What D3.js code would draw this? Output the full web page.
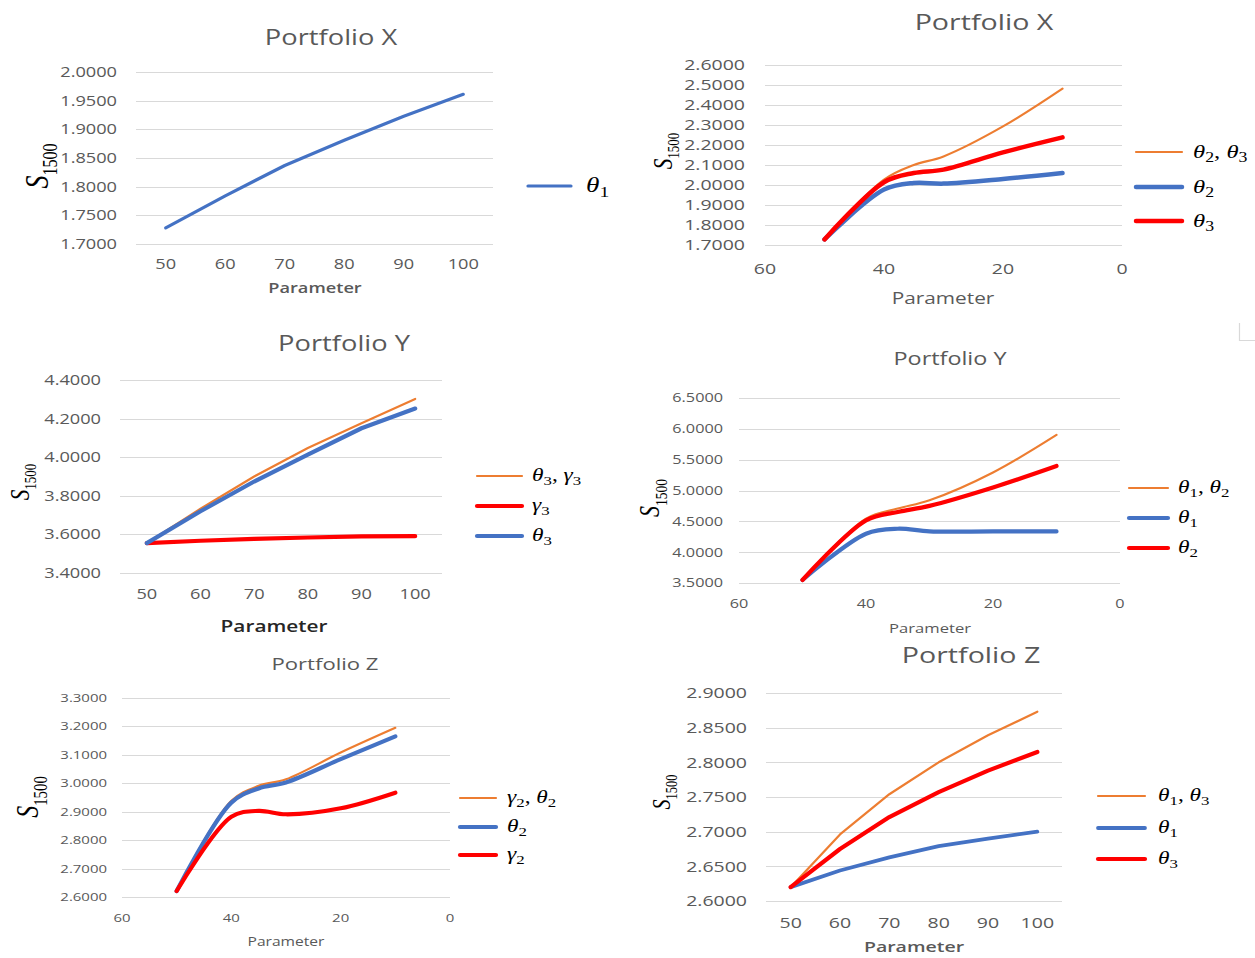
<!DOCTYPE html>
<html><head><meta charset="utf-8">
<script src="https://cdn.jsdelivr.net/npm/d3@7"></script>
<style>body{margin:0;background:#fff;} svg{display:block;}</style>
</head><body><svg id="c" width="1255" height="958"></svg>
<script>
// ---------------- DATA ----------------
const catParams = [50, 60, 70, 80, 90, 100];
const revParams = [50, 40, 35, 30, 20, 10];
const revTicks = [60, 40, 20, 0];

// Panel 1 – Portfolio X (categories)
const p1Theta1 = [1.728, 1.784, 1.837, 1.881, 1.923, 1.961];
const p1YTicks = [1.70, 1.75, 1.80, 1.85, 1.90, 1.95, 2.00];

// Panel 2 – Portfolio X (reversed numeric)
const p2Theta23 = [1.728, 2.027, 2.100, 2.143, 2.293, 2.482];
const p2Theta2  = [1.728, 1.977, 2.010, 2.007, 2.030, 2.060];
const p2Theta3  = [1.728, 2.014, 2.060, 2.077, 2.163, 2.238];
const p2YTicks = [1.7, 1.8, 1.9, 2.0, 2.1, 2.2, 2.3, 2.4, 2.5, 2.6];

// Panel 3 – Portfolio Y (categories)
const p3Theta3Gamma3 = [3.555, 3.733, 3.900, 4.048, 4.176, 4.302];
const p3Gamma3       = [3.555, 3.567, 3.577, 3.584, 3.590, 3.591];
const p3Theta3       = [3.555, 3.720, 3.874, 4.013, 4.150, 4.252];
const p3YTicks = [3.4, 3.6, 3.8, 4.0, 4.2, 4.4];

// Panel 4 – Portfolio Y (reversed numeric)
const p4Theta12 = [3.549, 4.543, 4.707, 4.842, 5.293, 5.902];
const p4Theta1  = [3.549, 4.299, 4.380, 4.337, 4.337, 4.337];
const p4Theta2  = [3.549, 4.516, 4.652, 4.750, 5.049, 5.397];
const p4YTicks = [3.5, 4.0, 4.5, 5.0, 5.5, 6.0, 6.5];

// Panel 5 – Portfolio Z (reversed numeric)
const p5Gamma2Theta2 = [2.621, 2.938, 2.991, 3.014, 3.108, 3.195];
const p5Theta2       = [2.621, 2.932, 2.982, 3.003, 3.085, 3.165];
const p5Gamma2       = [2.621, 2.882, 2.903, 2.891, 2.912, 2.967];
const p5YTicks = [2.6, 2.7, 2.8, 2.9, 3.0, 3.1, 3.2, 3.3];

// Panel 6 – Portfolio Z (categories)
const p6Theta13 = [2.620, 2.696, 2.754, 2.800, 2.839, 2.873];
const p6Theta1  = [2.620, 2.644, 2.663, 2.679, 2.690, 2.700];
const p6Theta3  = [2.620, 2.675, 2.721, 2.757, 2.788, 2.815];
const p6YTicks = [2.60, 2.65, 2.70, 2.75, 2.80, 2.85, 2.90];

// ---------------- STYLE ----------------
const ORANGE = "#ED7D31", BLUE = "#4472C4", RED = "#FF0000";
const GREY = "#595959", GRID = "#d9d9d9";
const SANS = "'Open Sans', sans-serif";
const SERIF = "'Liberation Serif', 'DejaVu Serif', serif";
const SX = 1.3;
const fmt4 = d3.format(".4f");

const svg = d3.select("#c");

function stext(parent, x, y, str, o) {
  const g = parent.append("g")
    .attr("transform", `translate(${x},${y}) scale(${o.sx || SX},1)` + (o.rotate ? ` rotate(${o.rotate})` : ""));
  return g.append("text")
    .attr("text-anchor", o.anchor || "middle")
    .attr("dy", "0.35em")
    .attr("font-family", o.family || SANS)
    .attr("font-size", o.size)
    .attr("font-weight", o.weight || 400)
    .attr("fill", o.fill || GREY)
    .text(str);
}

function mathLabel(parent, x, y, parts, size, opts) {
  opts = opts || {};
  const g = parent.append("g")
    .attr("transform", `translate(${x},${y}) scale(${SX},1)` + (opts.rotate ? ` rotate(${opts.rotate})` : ""));
  const t = g.append("text")
    .attr("text-anchor", opts.anchor || "start")
    .attr("dy", "0.35em")
    .attr("font-family", SERIF)
    .attr("font-size", size)
    .attr("fill", "#000");
  parts.forEach((p, i) => {
    if (i > 0) t.append("tspan").attr("font-style", "normal").attr("dy", `-${0.22}em`).text(", ");
    t.append("tspan").attr("font-style", "italic").attr("font-size", size)
      .attr("dy", i > 0 ? "0em" : null).text(p[0]);
    t.append("tspan").attr("font-style", "normal").attr("font-size", size * 0.72)
      .attr("dy", `${0.22 * size / (size * 0.72)}em`).text(p[1]);
  });
  return t;
}

function panel(c) {
  const g = svg.append("g");
  const y = d3.scaleLinear().domain(d3.extent(c.yTicks)).range([c.yBot, c.yTop]);
  let x, xTickVals;
  if (c.type === "cat") {
    x = d3.scalePoint().domain(c.cats).range([c.gx0, c.gx1]).padding(0.5);
    xTickVals = c.cats;
  } else {
    x = d3.scaleLinear().domain([c.xTicks[0], c.xTicks[c.xTicks.length - 1]]).range([c.gx0, c.gx1]);
    xTickVals = c.xTicks;
  }
  // gridlines
  g.selectAll(".grid").data(c.yTicks).join("line")
    .attr("x1", c.gx0).attr("x2", c.gx1)
    .attr("y1", d => Math.round(y(d)) + 0.5).attr("y2", d => Math.round(y(d)) + 0.5)
    .attr("stroke", GRID).attr("stroke-width", 1.2);
  // y tick labels
  c.yTicks.forEach(v => stext(g, c.yLabelRight, y(v), fmt4(v), { size: c.tickSize, anchor: "end" }));
  // x tick labels
  xTickVals.forEach(v => stext(g, x(v), c.xTickY, String(v), { size: c.tickSize }));
  // title
  stext(g, c.titleX, c.titleY, c.title, { size: c.titleSize });
  // x title
  stext(g, c.xTitleX, c.xTitleY, "Parameter", { size: c.xTitleSize, fill: c.xTitleFill || GREY, weight: c.xTitleWeight || 400 });
  // y title S_1500
  const yg = g.append("g").attr("transform", `translate(${c.yTitleX},${c.yTitleY}) scale(${SX},1) rotate(-90)`);
  const yt = yg.append("text").attr("text-anchor", "middle").attr("dy", "0.35em")
    .attr("font-family", SERIF).attr("font-size", c.yTitleSize).attr("fill", "#000");
  yt.append("tspan").attr("font-style", "italic").text("S");
  yt.append("tspan").attr("font-size", c.yTitleSize * 0.62).attr("dy", "0.45em").text("1500");
  // series
  const xs = c.type === "cat" ? c.cats : c.params;
  c.series.forEach((s, i) => {
    const line = d3.line().x((d, j) => x(xs[j])).y(d => y(d));
    if (c.curve) line.curve(c.curve);
    g.append("path").datum(s.values)
      .attr("d", line).attr("fill", "none")
      .attr("stroke", s.color).attr("stroke-width", s.width)
      .attr("stroke-linecap", "round").attr("stroke-linejoin", "round");
    // legend
    const ly = c.legend.ys[i];
    g.append("line").attr("x1", c.legend.x0).attr("x2", c.legend.x1)
      .attr("y1", ly).attr("y2", ly)
      .attr("stroke", s.color).attr("stroke-width", s.width)
      .attr("stroke-linecap", "round");
    mathLabel(g, c.legend.labelX, ly - 1, s.label, c.legend.size);
  });
}

// Panel 1
panel({
  type: "cat", cats: catParams, gx0: 136, gx1: 493, yTop: 72, yBot: 244, yTicks: p1YTicks,
  yLabelRight: 117, tickSize: 14, xTickY: 264,
  title: "Portfolio X", titleX: 331, titleY: 38, titleSize: 21,
  xTitleX: 315, xTitleY: 288, xTitleSize: 14, xTitleWeight: 600,
  yTitleX: 36, yTitleY: 166, yTitleSize: 26,
  series: [{ values: p1Theta1, color: BLUE, width: 3.2, label: [["θ", "1"]] }],
  legend: { x0: 528, x1: 571, ys: [186], labelX: 586, size: 21 }
});

// Panel 2
panel({
  type: "num", params: revParams, xTicks: revTicks, gx0: 765, gx1: 1122, yTop: 65, yBot: 245, yTicks: p2YTicks,
  yLabelRight: 745, tickSize: 15, xTickY: 269,
  title: "Portfolio X", titleX: 984, titleY: 22, titleSize: 22,
  xTitleX: 943, xTitleY: 298, xTitleSize: 16,
  yTitleX: 662, yTitleY: 151, yTitleSize: 21, curve: d3.curveCatmullRom,
  series: [
    { values: p2Theta23, color: ORANGE, width: 2.2, label: [["θ", "2"], ["θ", "3"]] },
    { values: p2Theta2, color: BLUE, width: 4.5, label: [["θ", "2"]] },
    { values: p2Theta3, color: RED, width: 4.5, label: [["θ", "3"]] }
  ],
  legend: { x0: 1136, x1: 1182, ys: [152, 187, 221], labelX: 1193, size: 19 }
});

// Panel 3
panel({
  type: "cat", cats: catParams, gx0: 120, gx1: 442, yTop: 380, yBot: 573, yTicks: p3YTicks,
  yLabelRight: 101, tickSize: 14, xTickY: 594,
  title: "Portfolio Y", titleX: 344, titleY: 344, titleSize: 21,
  xTitleX: 274, xTitleY: 626, xTitleSize: 16, xTitleFill: "#262626", xTitleWeight: 600,
  yTitleX: 19, yTitleY: 482, yTitleSize: 21,
  series: [
    { values: p3Theta3Gamma3, color: ORANGE, width: 2.2, label: [["θ", "3"], ["γ", "3"]] },
    { values: p3Gamma3, color: RED, width: 4.2, label: [["γ", "3"]] },
    { values: p3Theta3, color: BLUE, width: 4.2, label: [["θ", "3"]] }
  ],
  legend: { x0: 477, x1: 522, ys: [476, 506, 536], labelX: 532, size: 18 }
});

// Panel 4
panel({
  type: "num", params: revParams, xTicks: revTicks, gx0: 739, gx1: 1120, yTop: 398, yBot: 583, yTicks: p4YTicks,
  yLabelRight: 723, tickSize: 12.5, xTickY: 604,
  title: "Portfolio Y", titleX: 950, titleY: 359, titleSize: 18,
  xTitleX: 930, xTitleY: 629, xTitleSize: 12.8,
  yTitleX: 649, yTitleY: 498, yTitleSize: 22, curve: d3.curveCatmullRom,
  series: [
    { values: p4Theta12, color: ORANGE, width: 2.2, label: [["θ", "1"], ["θ", "2"]] },
    { values: p4Theta1, color: BLUE, width: 4.2, label: [["θ", "1"]] },
    { values: p4Theta2, color: RED, width: 4.2, label: [["θ", "2"]] }
  ],
  legend: { x0: 1129, x1: 1168, ys: [488, 518, 548], labelX: 1178, size: 18 }
});

// Panel 5
panel({
  type: "num", params: revParams, xTicks: revTicks, gx0: 122, gx1: 450, yTop: 698, yBot: 897, yTicks: p5YTicks,
  yLabelRight: 107, tickSize: 11.5, xTickY: 918,
  title: "Portfolio Z", titleX: 325, titleY: 664, titleSize: 17,
  xTitleX: 286, xTitleY: 942, xTitleSize: 12,
  yTitleX: 27, yTitleY: 797, yTitleSize: 24, curve: d3.curveCatmullRom,
  series: [
    { values: p5Gamma2Theta2, color: ORANGE, width: 2.2, label: [["γ", "2"], ["θ", "2"]] },
    { values: p5Theta2, color: BLUE, width: 4.2, label: [["θ", "2"]] },
    { values: p5Gamma2, color: RED, width: 4.2, label: [["γ", "2"]] }
  ],
  legend: { x0: 460, x1: 496, ys: [798, 827, 855], labelX: 507, size: 18 }
});

// Panel 6
panel({
  type: "cat", cats: catParams, gx0: 766, gx1: 1062, yTop: 693, yBot: 901, yTicks: p6YTicks,
  yLabelRight: 747, tickSize: 15, xTickY: 923,
  title: "Portfolio Z", titleX: 971, titleY: 655, titleSize: 22,
  xTitleX: 914, xTitleY: 947, xTitleSize: 15, xTitleWeight: 600,
  yTitleX: 661, yTitleY: 792, yTitleSize: 20,
  series: [
    { values: p6Theta13, color: ORANGE, width: 2.2, label: [["θ", "1"], ["θ", "3"]] },
    { values: p6Theta1, color: BLUE, width: 3.8, label: [["θ", "1"]] },
    { values: p6Theta3, color: RED, width: 4.2, label: [["θ", "3"]] }
  ],
  legend: { x0: 1098, x1: 1145, ys: [796, 828, 859], labelX: 1158, size: 18 }
});

// small corner mark (top right of middle-right panel)
svg.append("path").attr("d", "M1239.5,323 V340.5 H1255").attr("fill", "none").attr("stroke", GRID).attr("stroke-width", 1.2);
</script>
</body></html>
